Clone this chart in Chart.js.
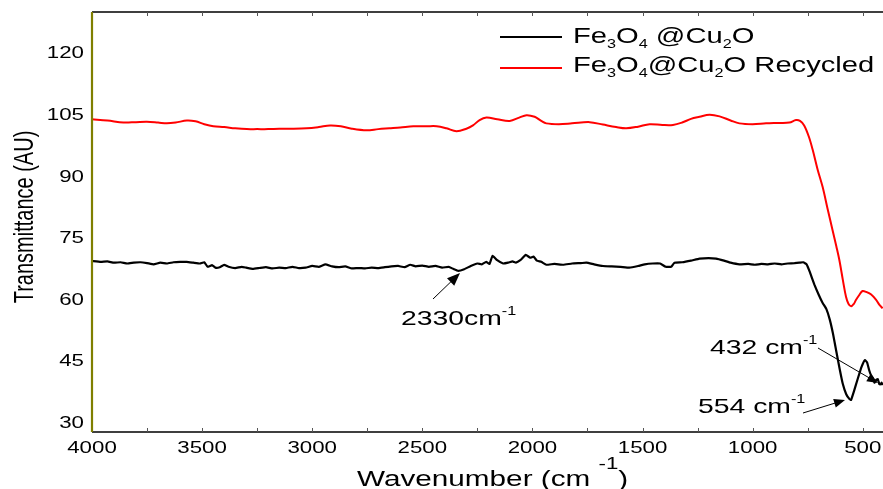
<!DOCTYPE html>
<html>
<head>
<meta charset="utf-8">
<script src="https://cdn.jsdelivr.net/npm/chart.js@4.4.1/dist/chart.umd.min.js"></script>
<style>
  html, body { margin: 0; padding: 0; background: #fff; }
  canvas { display: block; }
</style>
</head>
<body>
<canvas id="ftir" width="883" height="489"></canvas>
<script>
// wavenumber (cm-1) / transmittance
const blackWn = [4000, 3960, 3930, 3900, 3870, 3840, 3810, 3780, 3750, 3720, 3690, 3660, 3630, 3600, 3570, 3540, 3510, 3490, 3475, 3455,
  3440, 3420, 3400, 3380, 3350, 3320, 3300, 3270, 3240, 3210, 3180, 3150, 3120, 3090, 3060, 3030, 3000, 2970, 2940, 2910,
  2880, 2850, 2820, 2790, 2760, 2730, 2700, 2670, 2640, 2610, 2580, 2555, 2530, 2500, 2470, 2440, 2410, 2380, 2360, 2337,
  2310, 2280, 2250, 2230, 2210, 2195, 2181, 2160, 2133, 2110, 2090, 2075, 2055, 2030, 2010, 1995, 1980, 1960, 1937, 1900,
  1860, 1820, 1780, 1755, 1720, 1680, 1640, 1600, 1560, 1520, 1490, 1454, 1420, 1395, 1370, 1355, 1320, 1280, 1241, 1200,
  1166, 1130, 1100, 1060, 1020, 990, 960, 930, 900, 870, 840, 810, 788, 770, 755, 740, 720, 700, 682, 665,
  650, 635, 621, 605, 591, 575, 560, 553, 540, 523, 505, 490, 480, 470, 463, 455, 447, 440, 432, 425, 420, 414, 410];
const blackT = [69.2, 69.0, 69.1, 68.8, 68.9, 68.6, 68.8, 68.9, 68.7, 68.4, 68.8, 68.6, 68.9, 69.0, 69.0, 68.8, 68.6, 68.9, 67.8, 68.2,
  67.6, 67.7, 68.3, 67.8, 67.5, 67.8, 67.6, 67.3, 67.5, 67.7, 67.4, 67.6, 67.5, 67.8, 67.5, 67.6, 68.0, 67.8, 68.4, 67.9,
  67.7, 67.9, 67.4, 67.5, 67.4, 67.6, 67.5, 67.7, 67.9, 68.0, 67.7, 68.3, 67.9, 68.1, 67.8, 68.0, 67.6, 67.8, 67.3, 66.8,
  67.2, 68.0, 68.6, 68.4, 69.0, 68.5, 70.5, 69.4, 68.6, 68.8, 69.1, 68.8, 69.4, 70.7, 70.0, 70.3, 69.3, 69.0, 68.3, 68.5,
  68.3, 68.6, 68.7, 68.8, 68.4, 68.0, 67.9, 67.8, 67.6, 68.0, 68.4, 68.6, 68.6, 67.8, 67.8, 68.8, 68.9, 69.3, 69.8, 69.9,
  69.8, 69.3, 68.8, 68.4, 68.5, 68.3, 68.5, 68.4, 68.6, 68.4, 68.6, 68.7, 68.8, 68.9, 68.4, 66.5, 63.5, 61.0, 59.0, 57.5,
  55.0, 51.5, 47.5, 43.0, 39.4, 36.8, 35.6, 35.4, 37.5, 40.5, 43.5, 45.1, 44.5, 42.5, 41.5, 40.8, 39.6, 40.2, 40.5, 39.3, 39.2, 39.6, 39.0];

const redWn = [4000, 3930, 3857, 3800, 3751, 3700, 3660, 3620, 3569, 3530, 3490, 3449, 3400, 3350, 3297, 3250, 3200, 3150, 3100, 3025,
  2970, 2919, 2870, 2820, 2753, 2700, 2650, 2600, 2541, 2480, 2435, 2390, 2345, 2300, 2270, 2240, 2209, 2160, 2103, 2060,
  2027, 1990, 1960, 1937, 1880, 1820, 1740, 1680, 1620, 1574, 1520, 1468, 1410, 1362, 1320, 1280, 1241, 1196, 1150, 1100,
  1060, 1000, 939, 880, 833, 803, 785, 766, 745, 727, 705, 682, 660, 637, 620, 606, 590, 576, 565, 553,
  540, 531, 515, 501, 485, 463, 440, 425, 410];
const redT = [103.7, 103.4, 102.9, 103.0, 103.1, 102.9, 102.7, 102.9, 103.4, 103.2, 102.5, 102.0, 101.8, 101.5, 101.3, 101.3, 101.3, 101.4, 101.4, 101.5,
  101.8, 102.2, 102.0, 101.4, 101.0, 101.3, 101.5, 101.7, 102.0, 102.0, 102.0, 101.5, 100.8, 101.4, 102.2, 103.5, 104.1, 103.7, 103.3, 104.1,
  104.7, 104.3, 103.3, 102.7, 102.5, 102.7, 103.0, 102.4, 101.8, 101.5, 101.9, 102.5, 102.3, 102.3, 102.9, 103.8, 104.3, 104.8, 104.4, 103.4,
  102.7, 102.5, 102.7, 102.8, 102.9, 103.5, 103.3, 102.2, 99.5, 96.2, 91.5, 87.2, 82.0, 76.7, 72.8, 69.4, 64.5, 60.5, 58.8, 58.2,
  58.8, 59.7, 61.0, 61.9, 61.7, 61.1, 59.8, 58.6, 57.7];

const xTicks = [4000, 3750, 3500, 3250, 3000, 2750, 2500, 2250, 2000, 1750, 1500, 1250, 1000, 750, 500];
const yTicks = [30, 45, 60, 75, 90, 105, 120];

const FONT = '"Liberation Sans", Arial, sans-serif';
const SX = 1.35; // the reference text is stretched sideways

function toPoints(xs, ys) {
  return xs.map((x, i) => ({ x: x, y: ys[i] }));
}

// text with sub / superscript pieces, stretched by SX
function drawRich(ctx, x, y, parts, size, align) {
  ctx.save();
  ctx.translate(x, y);
  ctx.scale(SX, 1);
  let w = 0;
  parts.forEach(p => {
    ctx.font = (p.s || size) + 'px ' + FONT;
    w += ctx.measureText(p.t).width;
  });
  let cx = align === 'center' ? -w / 2 : (align === 'right' ? -w : 0);
  ctx.textAlign = 'left';
  ctx.textBaseline = 'alphabetic';
  ctx.fillStyle = '#000';
  parts.forEach(p => {
    ctx.font = (p.s || size) + 'px ' + FONT;
    ctx.fillText(p.t, cx, p.dy || 0);
    cx += ctx.measureText(p.t).width;
  });
  ctx.restore();
}

function arrow(ctx, x1, y1, x2, y2, head) {
  const ang = Math.atan2(y2 - y1, x2 - x1);
  ctx.beginPath();
  ctx.moveTo(x1, y1);
  ctx.lineTo(x2 - Math.cos(ang) * head * 0.8, y2 - Math.sin(ang) * head * 0.8);
  ctx.stroke();
  ctx.beginPath();
  ctx.moveTo(x2, y2);
  ctx.lineTo(x2 - head * Math.cos(ang) + head * 0.4 * Math.sin(ang), y2 - head * Math.sin(ang) - head * 0.4 * Math.cos(ang));
  ctx.lineTo(x2 - head * Math.cos(ang) - head * 0.4 * Math.sin(ang), y2 - head * Math.sin(ang) + head * 0.4 * Math.cos(ang));
  ctx.closePath();
  ctx.fill();
}

const sub = t => ({ t: t, s: 12, dy: 5 });
const sup = t => ({ t: t, s: 12, dy: -10 });

const decor = {
  id: 'decor',
  afterDraw(chart) {
    const ctx = chart.ctx;
    const a = chart.chartArea;
    const xs = chart.scales.x, ys = chart.scales.y;
    ctx.save();

    // frame: top + bottom black, left olive
    ctx.strokeStyle = '#000';
    ctx.lineWidth = 1.5;
    ctx.beginPath();
    ctx.moveTo(a.left, a.top); ctx.lineTo(a.right, a.top);
    ctx.moveTo(a.left, a.bottom); ctx.lineTo(a.right, a.bottom);
    ctx.stroke();

    ctx.lineWidth = 1;
    ctx.strokeStyle = '#555';
    ctx.beginPath();
    xs.ticks.forEach(t => {
      const px = Math.round(xs.getPixelForValue(t.value)) + 0.5;
      ctx.moveTo(px, a.bottom); ctx.lineTo(px, a.bottom - 4);
      ctx.moveTo(px, a.top); ctx.lineTo(px, a.top + 4);
    });
    ctx.stroke();

    ctx.strokeStyle = '#7f7f00';
    ctx.lineWidth = 2.2;
    ctx.beginPath();
    ctx.moveTo(a.left, a.top); ctx.lineTo(a.left, a.bottom);
    ctx.stroke();

    // tick labels
    xs.ticks.forEach(t => {
      if (t.value % 500 !== 0) return;
      drawRich(ctx, xs.getPixelForValue(t.value), 453, [{ t: String(t.value) }], 16.5, 'center');
    });
    ys.ticks.forEach(t => {
      drawRich(ctx, 84, ys.getPixelForValue(t.value) + 6, [{ t: String(t.value) }], 16.5, 'right');
    });

    // axis titles
    drawRich(ctx, 357, 486, [{ t: 'Wavenumber (cm ' }, { t: '-1', s: 16.5, dy: -17 }, { t: ')' }], 22, 'left');
    ctx.save();
    ctx.translate(33, 217);
    ctx.scale(SX, 1);
    ctx.rotate(-Math.PI / 2);
    ctx.font = '20px ' + FONT;
    ctx.fillStyle = '#000';
    ctx.textAlign = 'center';
    ctx.textBaseline = 'alphabetic';
    ctx.fillText('Transmittance (AU)', 0, 0);
    ctx.restore();

    // legend
    ctx.lineWidth = 2;
    ctx.strokeStyle = '#000';
    ctx.beginPath(); ctx.moveTo(500, 37); ctx.lineTo(562, 37); ctx.stroke();
    ctx.strokeStyle = '#ff0000';
    ctx.beginPath(); ctx.moveTo(500, 68); ctx.lineTo(562, 68); ctx.stroke();
    drawRich(ctx, 573, 43, [{ t: 'Fe' }, sub('3'), { t: 'O' }, sub('4'), { t: ' @Cu' }, sub('2'), { t: 'O' }], 21.6, 'left');
    drawRich(ctx, 573, 72, [{ t: 'Fe' }, sub('3'), { t: 'O' }, sub('4'), { t: '@Cu' }, sub('2'), { t: 'O Recycled' }], 21.6, 'left');

    // peak notes
    drawRich(ctx, 401, 325, [{ t: '2330cm' }, sup('-1')], 21, 'left');
    drawRich(ctx, 710, 354, [{ t: '432 cm' }, sup('-1')], 21, 'left');
    drawRich(ctx, 698, 413, [{ t: '554 cm' }, sup('-1')], 21, 'left');
    ctx.strokeStyle = '#000';
    ctx.fillStyle = '#000';
    ctx.lineWidth = 1;
    arrow(ctx, 433, 299, 460, 273, 13);
    arrow(ctx, 818, 348, 878, 383, 11);
    arrow(ctx, 803, 413, 845, 400, 11);

    ctx.restore();
  }
};

new Chart(document.getElementById('ftir'), {
  type: 'line',
  data: {
    datasets: [
      {
        label: 'Fe3O4 @Cu2O',
        data: toPoints(blackWn, blackT),
        borderColor: '#000000',
        borderWidth: 2.2,
        pointRadius: 0,
        tension: 0.1
      },
      {
        label: 'Fe3O4@Cu2O Recycled',
        data: toPoints(redWn, redT),
        borderColor: '#ff0000',
        borderWidth: 2,
        pointRadius: 0,
        tension: 0.35
      }
    ]
  },
  options: {
    responsive: false,
    devicePixelRatio: 1,
    animation: false,
    layout: { padding: { top: 12, right: 0, left: 0, bottom: 0 } },
    plugins: { legend: { display: false }, tooltip: { enabled: false } },
    scales: {
      x: {
        type: 'linear',
        reverse: true,
        min: 408,
        max: 4000,
        grid: { display: false },
        border: { display: false },
        ticks: { display: false },
        afterBuildTicks: s => { s.ticks = xTicks.map(v => ({ value: v })); },
        afterFit: s => { s.height = 57; }
      },
      y: {
        type: 'linear',
        min: 27.6,
        max: 129.8,
        grid: { display: false },
        border: { display: false },
        ticks: { display: false },
        afterBuildTicks: s => { s.ticks = yTicks.map(v => ({ value: v })); },
        afterFit: s => { s.width = 92; }
      }
    }
  },
  plugins: [decor]
});
</script>
</body>
</html>
